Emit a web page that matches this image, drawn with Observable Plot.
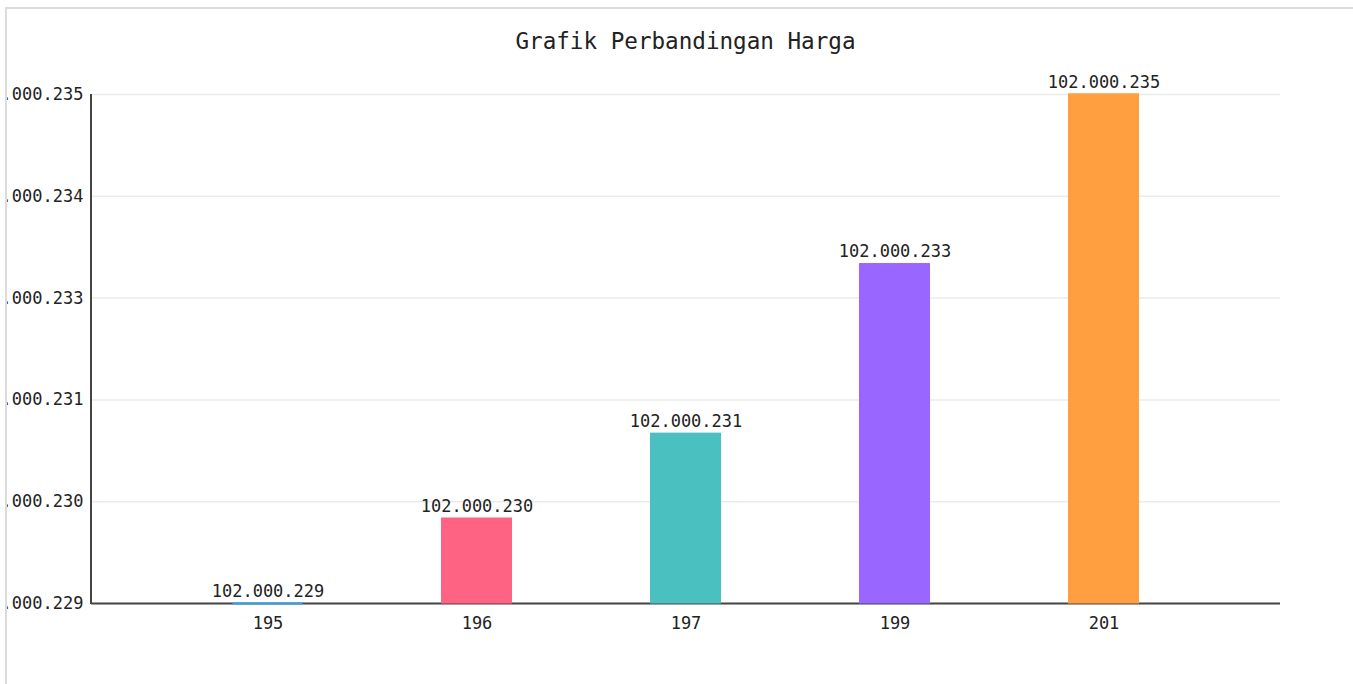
<!DOCTYPE html>
<html>
<head>
<meta charset="utf-8">
<script src="https://cdn.jsdelivr.net/npm/d3@7"></script>
<script src="https://cdn.jsdelivr.net/npm/@observablehq/plot@0.6"></script>
<style>
  html, body { margin: 0; padding: 0; background: #fff; }
  #frame {
    position: absolute; left: 5px; top: 7px;
    width: 1400px; height: 700px;
    border-left: 2px solid #dcdcdc; border-top: 2px solid #dcdcdc;
    overflow: hidden; background: #fff;
  }
  #title {
    position: absolute; left: 84px; width: 1189px; top: 21px;
    text-align: center; font-family: "DejaVu Sans Mono", monospace;
    font-size: 22.6px; line-height: 22px; color: #222; z-index: 2;
  }
  #chart { position: absolute; left: 0; top: 0; }
  #chart svg { overflow: hidden; }
</style>
</head>
<body>
<div id="frame">
  <div id="title">Grafik Perbandingan Harga</div>
  <div id="chart"></div>
</div>
<script>
// ---- data ----
const categories = ["195", "196", "197", "199", "201"];
const prices = [102000229, 102000230, 102000231, 102000233, 102000235];
const barColors = ["#36a2eb", "#ff6384", "#4bc0c0", "#9966ff", "#ff9f40"];
const yDomain = [102000229, 102000235];
const yTickValues = [102000229, 102000230.2, 102000231.4, 102000232.6, 102000233.8, 102000235];

const idFmt = d3.formatLocale({decimal: ",", thousands: ".", grouping: [3], currency: ["Rp", ""]}).format(",.0f");

const rows = categories.map((c, i) => ({cat: c, value: prices[i], color: barColors[i], base: yDomain[0]}));

const FONT = "DejaVu Sans Mono, monospace";

const chart = Plot.plot({
  width: 1346,
  height: 675,
  marginLeft: 84,
  marginRight: 73,
  marginTop: 85,
  marginBottom: 81,
  style: {fontFamily: FONT, fontSize: "17px", color: "#222", background: "white"},
  x: {domain: categories, padding: 0, insetLeft: 71, insetRight: 72, label: null},
  y: {domain: yDomain, label: null},
  marks: [
    Plot.ruleY(yTickValues, {stroke: "#ebebeb", strokeWidth: 1.5}),
    Plot.axisY({ticks: yTickValues, tickSize: 0, tickPadding: 8, tickFormat: idFmt, label: null, fontSize: 17, fill: "#222"}),
    Plot.axisX({tickSize: 0, tickPadding: 13, label: null, fontSize: 17, fill: "#222"}),
    Plot.ruleY([yDomain[0]], {stroke: "#444", strokeWidth: 2}),
    Plot.barY(rows, {
      x: "cat", y1: "base", y2: "value",
      fill: "color", stroke: "color", strokeWidth: 1,
      insetLeft: 69.5, insetRight: 69.5
    }),
    Plot.tickY(rows, {
      x: "cat", y: "value", stroke: "color", strokeWidth: 2,
      insetLeft: 69.5, insetRight: 69.5
    }),
    Plot.text(rows, {
      x: "cat", y: "value", text: d => idFmt(d.value),
      dy: -7, lineAnchor: "bottom", fontSize: 17, fill: "#222"
    })
  ]
});
document.getElementById("chart").appendChild(chart);

// left axis line (frame left edge)
d3.select(chart).append("line")
  .attr("x1", 84).attr("x2", 84)
  .attr("y1", 85).attr("y2", 675 - 81 + 1)
  .attr("stroke", "#444").attr("stroke-width", 2);
</script>
</body>
</html>
